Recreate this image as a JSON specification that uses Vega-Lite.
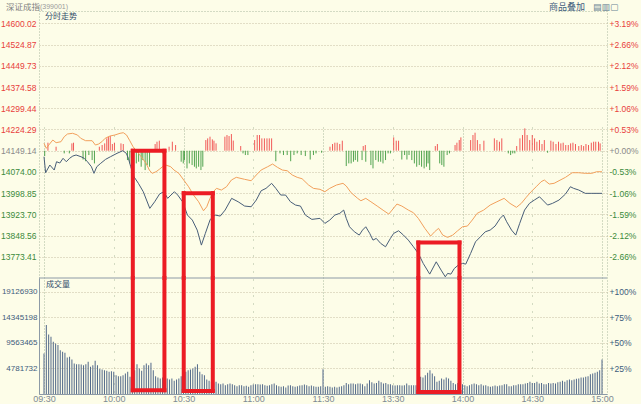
{
"$schema": "https://vega.github.io/schema/vega-lite/v6.json",
"width": 568,
"height": 383,
"autosize": {"type": "none"},
"padding": {"left": 39, "top": 11, "right": 34, "bottom": 10},
"background": "#fdfde8",
"config": {"view": {"stroke": "#aab8a0", "strokeDash": [1, 2]}, "font": "Liberation Sans", "axis": {"labelOverlap": false}},
"datasets": {
"one": [{}],
"price": [
{"m":0,"p":14127.9},{"m":0.7,"p":14071.2},{"m":2.5,"p":14098.4},{"m":4.4,"p":14080.7},{"m":5.4,"p":14110.1},{"m":6.8,"p":14105.5},{"m":8.2,"p":14122.2},{"m":9.6,"p":14110.1},{"m":11.0,"p":14122.2},{"m":12.4,"p":14130.3},{"m":13.8,"p":14133.9},{"m":15.9,"p":14127.9},{"m":17.3,"p":14122.2},{"m":18.7,"p":14110.1},{"m":20.4,"p":14092.4},{"m":21.5,"p":14069.0},{"m":22.7,"p":14092.4},{"m":24.4,"p":14104.5},{"m":26.5,"p":14118.6},{"m":28.6,"p":14127.9},{"m":31.4,"p":14139.9},{"m":33.9,"p":14149.1},{"m":35.4,"p":14139.9},{"m":36.3,"p":14122.2},{"m":37.3,"p":14092.4},{"m":38.7,"p":14056.9},{"m":40.6,"p":14033.5},{"m":42.7,"p":14003.8},{"m":45.5,"p":13944.9},{"m":47.6,"p":13968.3},{"m":49.7,"p":13995.6},{"m":51.5,"p":14003.8},{"m":53.2,"p":13980.4},{"m":54.6,"p":13992.1},{"m":56.1,"p":14003.8},{"m":57.5,"p":13992.1},{"m":59.6,"p":13968.3},{"m":61.7,"p":13921.2},{"m":63.8,"p":13903.4},{"m":65.9,"p":13868.0},{"m":67.7,"p":13814.8},{"m":69.4,"p":13856.3},{"m":71.5,"p":13905.9},{"m":73.6,"p":13921.2},{"m":75.8,"p":13917.6},{"m":77.9,"p":13938.9},{"m":80.7,"p":13980.4},{"m":83.5,"p":13968.3},{"m":86.3,"p":13953.1},{"m":89.1,"p":13950.6},{"m":91.3,"p":13974.3},{"m":93.4,"p":14007.3},{"m":95.5,"p":14015.8},{"m":97.9,"p":14033.5},{"m":99.7,"p":14015.8},{"m":101.8,"p":13992.1},{"m":103.9,"p":13992.1},{"m":106.0,"p":13968.3},{"m":108.2,"p":13956.6},{"m":110.3,"p":13953.1},{"m":112.4,"p":13921.2},{"m":115.2,"p":13905.9},{"m":118.7,"p":13909.5},{"m":120.8,"p":13891.7},{"m":122.9,"p":13903.4},{"m":125.1,"p":13921.2},{"m":127.2,"p":13927.2},{"m":128.9,"p":13938.9},{"m":130.0,"p":13909.5},{"m":131.4,"p":13879.7},{"m":133.5,"p":13862.0},{"m":135.6,"p":13850.3},{"m":137.0,"p":13868.0},{"m":138.4,"p":13879.7},{"m":140.1,"p":13856.3},{"m":141.5,"p":13832.5},{"m":142.9,"p":13838.6},{"m":144.8,"p":13820.9},{"m":146.9,"p":13808.8},{"m":149.0,"p":13838.6},{"m":150.4,"p":13856.3},{"m":152.5,"p":13865.5},{"m":154.6,"p":13850.3},{"m":156.7,"p":13832.5},{"m":158.9,"p":13808.8},{"m":161.0,"p":13785.4},{"m":163.1,"p":13750.0},{"m":165.9,"p":13712.0},{"m":168.7,"p":13755.6},{"m":170.8,"p":13726.2},{"m":172.6,"p":13702.5},{"m":173.6,"p":13714.5},{"m":175.0,"p":13712.0},{"m":176.5,"p":13732.2},{"m":178.2,"p":13743.9},{"m":180.0,"p":13750.0},{"m":181.4,"p":13747.5},{"m":183.5,"p":13785.4},{"m":185.6,"p":13826.5},{"m":187.7,"p":13844.2},{"m":189.8,"p":13862.0},{"m":191.9,"p":13868.0},{"m":194.0,"p":13882.2},{"m":196.2,"p":13909.5},{"m":197.6,"p":13921.2},{"m":199.0,"p":13897.4},{"m":201.1,"p":13868.0},{"m":202.9,"p":13850.3},{"m":204.6,"p":13891.7},{"m":206.7,"p":13938.9},{"m":208.8,"p":13962.6},{"m":210.9,"p":13974.3},{"m":213.1,"p":13986.0},{"m":214.5,"p":13974.3},{"m":216.6,"p":13956.6},{"m":218.7,"p":13962.6},{"m":221.5,"p":13974.3},{"m":224.3,"p":13995.6},{"m":226.4,"p":14021.5},{"m":227.8,"p":14015.8},{"m":230.0,"p":14009.8},{"m":232.8,"p":13998.1},{"m":235.6,"p":13998.1},{"m":240,"p":13998.1}
],
"avg": [
{"m":0,"a":14175.4},{"m":1.0,"a":14157.6},{"m":2.4,"a":14172.9},{"m":3.8,"a":14187.1},{"m":5.2,"a":14177.5},{"m":7.3,"a":14181.0},{"m":8.7,"a":14198.8},{"m":10.1,"a":14208.3},{"m":12.3,"a":14210.8},{"m":14.4,"a":14204.8},{"m":15.8,"a":14193.1},{"m":17.9,"a":14184.6},{"m":20.7,"a":14184.6},{"m":22.1,"a":14169.3},{"m":23.5,"a":14172.9},{"m":24.9,"a":14181.0},{"m":26.3,"a":14193.1},{"m":28.4,"a":14201.2},{"m":30.5,"a":14204.8},{"m":32.7,"a":14210.8},{"m":34.1,"a":14212.9},{"m":35.5,"a":14204.8},{"m":36.9,"a":14184.6},{"m":38.3,"a":14163.3},{"m":39.7,"a":14149.1},{"m":41.8,"a":14127.9},{"m":43.9,"a":14104.5},{"m":45.3,"a":14080.7},{"m":46.5,"a":14069.0},{"m":48.2,"a":14074.7},{"m":49.6,"a":14083.2},{"m":51.0,"a":14092.4},{"m":52.4,"a":14098.4},{"m":54.5,"a":14092.4},{"m":55.9,"a":14080.7},{"m":58.0,"a":14069.0},{"m":60.1,"a":14045.3},{"m":62.2,"a":14021.5},{"m":64.3,"a":13992.1},{"m":66.5,"a":13968.3},{"m":68.6,"a":13936.4},{"m":70.0,"a":13950.6},{"m":71.4,"a":13980.4},{"m":72.8,"a":14003.8},{"m":74.2,"a":14015.8},{"m":76.3,"a":14009.8},{"m":78.5,"a":14021.5},{"m":80.6,"a":14045.3},{"m":82.7,"a":14054.8},{"m":86.3,"a":14047.8},{"m":89.1,"a":14042.8},{"m":91.3,"a":14063.0},{"m":93.4,"a":14080.7},{"m":96.2,"a":14092.4},{"m":98.3,"a":14102.0},{"m":100.4,"a":14090.3},{"m":102.5,"a":14080.7},{"m":104.6,"a":14078.2},{"m":106.8,"a":14063.0},{"m":108.9,"a":14054.8},{"m":111.0,"a":14049.9},{"m":113.8,"a":14027.6},{"m":115.9,"a":14015.8},{"m":118.7,"a":14012.3},{"m":120.8,"a":14003.8},{"m":122.9,"a":14015.8},{"m":125.8,"a":14027.6},{"m":128.6,"a":14033.6},{"m":130.0,"a":14024.0},{"m":132.1,"a":14000.3},{"m":134.9,"a":13980.4},{"m":136.3,"a":13971.9},{"m":138.4,"a":13980.4},{"m":140.6,"a":13968.3},{"m":143.3,"a":13953.1},{"m":146.2,"a":13936.4},{"m":148.3,"a":13924.7},{"m":149.7,"a":13938.9},{"m":151.8,"a":13960.2},{"m":153.9,"a":13953.1},{"m":156.7,"a":13938.9},{"m":158.9,"a":13929.4},{"m":161.0,"a":13909.5},{"m":163.8,"a":13874.1},{"m":166.3,"a":13846.8},{"m":168.0,"a":13862.0},{"m":169.7,"a":13874.1},{"m":171.5,"a":13850.3},{"m":173.6,"a":13842.1},{"m":175.8,"a":13850.3},{"m":177.9,"a":13865.5},{"m":180.0,"a":13879.7},{"m":182.1,"a":13882.2},{"m":184.2,"a":13903.5},{"m":186.3,"a":13927.2},{"m":189.1,"a":13938.9},{"m":191.9,"a":13956.6},{"m":194.8,"a":13968.3},{"m":197.9,"a":13980.4},{"m":200.4,"a":13962.7},{"m":203.2,"a":13948.5},{"m":205.3,"a":13962.7},{"m":207.4,"a":13983.9},{"m":209.5,"a":14003.8},{"m":211.7,"a":14021.5},{"m":213.8,"a":14039.2},{"m":215.2,"a":14045.3},{"m":217.3,"a":14031.1},{"m":219.4,"a":14033.6},{"m":221.5,"a":14042.8},{"m":224.3,"a":14054.8},{"m":227.2,"a":14071.2},{"m":230.0,"a":14071.2},{"m":232.8,"a":14069.0},{"m":235.6,"a":14069.0},{"m":237.7,"a":14074.7},{"m":240,"a":14074.7}
],
"strength": [
{"m":1.7,"lvl":14177.5,"dir":"up"},{"m":5.2,"lvl":14163.3,"dir":"up"},{"m":12.0,"lvl":14175.1,"dir":"up"},{"m":12.7,"lvl":14177.5,"dir":"up"},{"m":23.8,"lvl":14163.3,"dir":"up"},{"m":25.0,"lvl":14169.2,"dir":"up"},{"m":26.1,"lvl":14175.1,"dir":"up"},{"m":27.0,"lvl":14192.8,"dir":"up"},{"m":27.7,"lvl":14198.8,"dir":"up"},{"m":28.5,"lvl":14201.1,"dir":"up"},{"m":29.4,"lvl":14172.8,"dir":"up"},{"m":30.3,"lvl":14177.5,"dir":"up"},{"m":33.1,"lvl":14175.1,"dir":"up"},{"m":34.1,"lvl":14172.8,"dir":"up"},{"m":47.8,"lvl":14172.8,"dir":"up"},{"m":48.6,"lvl":14181.0,"dir":"up"},{"m":49.6,"lvl":14184.6,"dir":"up"},{"m":53.8,"lvl":14163.3,"dir":"up"},{"m":55.2,"lvl":14181.0,"dir":"up"},{"m":56.6,"lvl":14169.2,"dir":"up"},{"m":69.6,"lvl":14186.9,"dir":"up"},{"m":70.4,"lvl":14192.8,"dir":"up"},{"m":71.4,"lvl":14198.8,"dir":"up"},{"m":72.4,"lvl":14189.3,"dir":"up"},{"m":73.1,"lvl":14184.6,"dir":"up"},{"m":74.0,"lvl":14175.1,"dir":"up"},{"m":77.8,"lvl":14198.8,"dir":"up"},{"m":78.7,"lvl":14204.7,"dir":"up"},{"m":79.6,"lvl":14201.1,"dir":"up"},{"m":80.6,"lvl":14208.2,"dir":"up"},{"m":81.4,"lvl":14185.0,"dir":"up"},{"m":84.6,"lvl":14165.7,"dir":"up"},{"m":90.6,"lvl":14186.9,"dir":"up"},{"m":91.7,"lvl":14204.7,"dir":"up"},{"m":92.7,"lvl":14204.7,"dir":"up"},{"m":93.7,"lvl":14192.8,"dir":"up"},{"m":94.8,"lvl":14192.8,"dir":"up"},{"m":95.9,"lvl":14192.8,"dir":"up"},{"m":96.9,"lvl":14192.8,"dir":"up"},{"m":97.9,"lvl":14192.8,"dir":"up"},{"m":123.0,"lvl":14163.3,"dir":"up"},{"m":124.1,"lvl":14172.8,"dir":"up"},{"m":125.1,"lvl":14177.5,"dir":"up"},{"m":126.1,"lvl":14177.5,"dir":"up"},{"m":127.2,"lvl":14172.8,"dir":"up"},{"m":128.3,"lvl":14184.6,"dir":"up"},{"m":137.3,"lvl":14165.7,"dir":"up"},{"m":138.2,"lvl":14169.2,"dir":"up"},{"m":150.4,"lvl":14196.4,"dir":"up"},{"m":151.5,"lvl":14184.6,"dir":"up"},{"m":152.5,"lvl":14184.6,"dir":"up"},{"m":168.3,"lvl":14165.7,"dir":"up"},{"m":169.2,"lvl":14172.8,"dir":"up"},{"m":176.8,"lvl":14169.2,"dir":"up"},{"m":177.6,"lvl":14177.5,"dir":"up"},{"m":178.6,"lvl":14186.9,"dir":"up"},{"m":179.3,"lvl":14196.4,"dir":"up"},{"m":183.5,"lvl":14186.9,"dir":"up"},{"m":184.5,"lvl":14204.7,"dir":"up"},{"m":185.4,"lvl":14212.9,"dir":"up"},{"m":186.4,"lvl":14186.9,"dir":"up"},{"m":187.5,"lvl":14172.8,"dir":"up"},{"m":189.2,"lvl":14184.6,"dir":"up"},{"m":193.7,"lvl":14192.8,"dir":"up"},{"m":194.8,"lvl":14186.9,"dir":"up"},{"m":195.9,"lvl":14181.0,"dir":"up"},{"m":196.9,"lvl":14192.8,"dir":"up"},{"m":203.3,"lvl":14165.7,"dir":"up"},{"m":204.7,"lvl":14192.8,"dir":"up"},{"m":205.8,"lvl":14204.7,"dir":"up"},{"m":206.8,"lvl":14228.3,"dir":"up"},{"m":207.8,"lvl":14204.7,"dir":"up"},{"m":208.9,"lvl":14186.9,"dir":"up"},{"m":210.0,"lvl":14204.7,"dir":"up"},{"m":211.0,"lvl":14192.8,"dir":"up"},{"m":212.0,"lvl":14181.0,"dir":"up"},{"m":213.1,"lvl":14186.9,"dir":"up"},{"m":214.2,"lvl":14172.8,"dir":"up"},{"m":215.2,"lvl":14186.9,"dir":"up"},{"m":218.0,"lvl":14184.6,"dir":"up"},{"m":219.0,"lvl":14181.0,"dir":"up"},{"m":220.2,"lvl":14172.8,"dir":"up"},{"m":221.3,"lvl":14181.0,"dir":"up"},{"m":222.3,"lvl":14175.1,"dir":"up"},{"m":223.3,"lvl":14177.5,"dir":"up"},{"m":224.4,"lvl":14169.2,"dir":"up"},{"m":225.5,"lvl":14169.2,"dir":"up"},{"m":226.5,"lvl":14175.1,"dir":"up"},{"m":227.5,"lvl":14177.5,"dir":"up"},{"m":228.6,"lvl":14172.8,"dir":"up"},{"m":230.0,"lvl":14165.7,"dir":"up"},{"m":231.1,"lvl":14169.2,"dir":"up"},{"m":232.1,"lvl":14165.7,"dir":"up"},{"m":233.1,"lvl":14172.8,"dir":"up"},{"m":234.2,"lvl":14169.2,"dir":"up"},{"m":235.4,"lvl":14177.5,"dir":"up"},{"m":236.4,"lvl":14181.0,"dir":"up"},{"m":237.3,"lvl":14181.0,"dir":"up"},{"m":238.5,"lvl":14181.0,"dir":"up"},{"m":239.2,"lvl":14175.1,"dir":"up"},
{"m":0.3,"lvl":14130.2,"dir":"down"},{"m":8.7,"lvl":14139.7,"dir":"down"},{"m":10.9,"lvl":14139.7,"dir":"down"},{"m":16.8,"lvl":14117.9,"dir":"down"},{"m":17.9,"lvl":14111.9,"dir":"down"},{"m":19.3,"lvl":14133.8,"dir":"down"},{"m":20.7,"lvl":14116.0,"dir":"down"},{"m":21.7,"lvl":14104.2,"dir":"down"},{"m":35.9,"lvl":14116.0,"dir":"down"},{"m":36.9,"lvl":14104.2,"dir":"down"},{"m":37.6,"lvl":14125.5,"dir":"down"},{"m":39.7,"lvl":14104.2,"dir":"down"},{"m":40.7,"lvl":14110.1,"dir":"down"},{"m":41.8,"lvl":14092.4,"dir":"down"},{"m":42.5,"lvl":14116.0,"dir":"down"},{"m":43.5,"lvl":14080.6,"dir":"down"},{"m":44.4,"lvl":14098.3,"dir":"down"},{"m":45.4,"lvl":14092.4,"dir":"down"},{"m":51.0,"lvl":14139.7,"dir":"down"},{"m":59.0,"lvl":14110.1,"dir":"down"},{"m":59.9,"lvl":14104.2,"dir":"down"},{"m":60.4,"lvl":14116.0,"dir":"down"},{"m":61.5,"lvl":14086.5,"dir":"down"},{"m":62.5,"lvl":14104.2,"dir":"down"},{"m":63.7,"lvl":14098.3,"dir":"down"},{"m":64.7,"lvl":14092.4,"dir":"down"},{"m":65.5,"lvl":14086.5,"dir":"down"},{"m":66.5,"lvl":14092.4,"dir":"down"},{"m":67.5,"lvl":14080.6,"dir":"down"},{"m":68.3,"lvl":14092.4,"dir":"down"},{"m":85.6,"lvl":14139.7,"dir":"down"},{"m":86.6,"lvl":14133.8,"dir":"down"},{"m":87.7,"lvl":14133.8,"dir":"down"},{"m":99.7,"lvl":14111.9,"dir":"down"},{"m":101.5,"lvl":14139.7,"dir":"down"},{"m":103.0,"lvl":14133.8,"dir":"down"},{"m":104.6,"lvl":14133.8,"dir":"down"},{"m":106.1,"lvl":14111.9,"dir":"down"},{"m":107.5,"lvl":14133.8,"dir":"down"},{"m":108.9,"lvl":14139.7,"dir":"down"},{"m":110.6,"lvl":14133.8,"dir":"down"},{"m":112.4,"lvl":14130.2,"dir":"down"},{"m":114.5,"lvl":14117.9,"dir":"down"},{"m":115.9,"lvl":14133.8,"dir":"down"},{"m":117.0,"lvl":14139.7,"dir":"down"},{"m":119.4,"lvl":14142.0,"dir":"down"},{"m":130.0,"lvl":14094.8,"dir":"down"},{"m":131.1,"lvl":14104.2,"dir":"down"},{"m":132.1,"lvl":14104.2,"dir":"down"},{"m":133.1,"lvl":14110.1,"dir":"down"},{"m":133.9,"lvl":14116.0,"dir":"down"},{"m":134.9,"lvl":14110.1,"dir":"down"},{"m":136.8,"lvl":14116.0,"dir":"down"},{"m":138.4,"lvl":14110.1,"dir":"down"},{"m":140.6,"lvl":14098.3,"dir":"down"},{"m":141.5,"lvl":14086.5,"dir":"down"},{"m":142.7,"lvl":14116.0,"dir":"down"},{"m":143.8,"lvl":14110.1,"dir":"down"},{"m":144.8,"lvl":14110.1,"dir":"down"},{"m":145.8,"lvl":14104.2,"dir":"down"},{"m":146.9,"lvl":14116.0,"dir":"down"},{"m":148.0,"lvl":14139.7,"dir":"down"},{"m":149.0,"lvl":14139.7,"dir":"down"},{"m":153.9,"lvl":14117.9,"dir":"down"},{"m":155.1,"lvl":14133.8,"dir":"down"},{"m":156.1,"lvl":14117.9,"dir":"down"},{"m":157.0,"lvl":14133.8,"dir":"down"},{"m":158.2,"lvl":14116.0,"dir":"down"},{"m":159.3,"lvl":14104.2,"dir":"down"},{"m":160.3,"lvl":14092.4,"dir":"down"},{"m":161.4,"lvl":14098.3,"dir":"down"},{"m":162.4,"lvl":14092.4,"dir":"down"},{"m":163.5,"lvl":14086.5,"dir":"down"},{"m":164.5,"lvl":14092.4,"dir":"down"},{"m":165.2,"lvl":14104.2,"dir":"down"},{"m":165.9,"lvl":14080.6,"dir":"down"},{"m":170.2,"lvl":14104.2,"dir":"down"},{"m":171.1,"lvl":14098.3,"dir":"down"},{"m":172.0,"lvl":14092.4,"dir":"down"},{"m":173.4,"lvl":14133.8,"dir":"down"},{"m":174.4,"lvl":14139.7,"dir":"down"},{"m":199.7,"lvl":14139.7,"dir":"down"},{"m":200.7,"lvl":14133.8,"dir":"down"},{"m":201.6,"lvl":14139.7,"dir":"down"},{"m":202.5,"lvl":14139.7,"dir":"down"},{"m":216.6,"lvl":14142.0,"dir":"down"}
],
"vol": [
{"m":0,"v":7580000},{"m":1,"v":12890000},{"m":2,"v":11140000},{"m":3,"v":10700000},{"m":4,"v":9760000},{"m":5,"v":9450000},{"m":6,"v":9140000},{"m":7,"v":8200000},{"m":8,"v":7890000},{"m":9,"v":7700000},{"m":10,"v":6830000},{"m":11,"v":6950000},{"m":12,"v":6460000},{"m":13,"v":5710000},{"m":14,"v":5580000},{"m":15,"v":5580000},{"m":16,"v":5520000},{"m":17,"v":5390000},{"m":18,"v":5580000},{"m":19,"v":6020000},{"m":20,"v":5080000},{"m":21,"v":5390000},{"m":22,"v":6210000},{"m":23,"v":5390000},{"m":24,"v":4710000},{"m":25,"v":4580000},{"m":26,"v":4460000},{"m":27,"v":4330000},{"m":28,"v":4150000},{"m":29,"v":4270000},{"m":30,"v":4150000},{"m":31,"v":3520000},{"m":32,"v":3330000},{"m":33,"v":3330000},{"m":34,"v":3520000},{"m":35,"v":3830000},{"m":36,"v":4150000},{"m":37,"v":3210000},{"m":38,"v":2580000},{"m":39,"v":4460000},{"m":40,"v":5580000},{"m":41,"v":4770000},{"m":42,"v":4330000},{"m":43,"v":5390000},{"m":44,"v":5710000},{"m":45,"v":5390000},{"m":46,"v":5830000},{"m":47,"v":4460000},{"m":48,"v":3330000},{"m":49,"v":3080000},{"m":50,"v":2900000},{"m":51,"v":3080000},{"m":52,"v":2900000},{"m":53,"v":2900000},{"m":54,"v":2710000},{"m":55,"v":2900000},{"m":56,"v":2460000},{"m":57,"v":2710000},{"m":58,"v":2900000},{"m":59,"v":3330000},{"m":60,"v":4150000},{"m":61,"v":4150000},{"m":62,"v":4460000},{"m":63,"v":4580000},{"m":64,"v":4770000},{"m":65,"v":5080000},{"m":66,"v":5580000},{"m":67,"v":4150000},{"m":68,"v":3710000},{"m":69,"v":3520000},{"m":70,"v":2710000},{"m":71,"v":2460000},{"m":72,"v":2270000},{"m":73,"v":2080000},{"m":74,"v":2270000},
{"m":75,"v":1960000},{"m":76,"v":1840000},{"m":77,"v":1960000},{"m":78,"v":1650000},{"m":79,"v":1840000},{"m":80,"v":1960000},{"m":81,"v":1840000},{"m":82,"v":1650000},{"m":83,"v":1460000},{"m":84,"v":1650000},{"m":85,"v":1650000},{"m":86,"v":1460000},{"m":87,"v":1520000},{"m":88,"v":1340000},{"m":89,"v":1650000},{"m":90,"v":1770000},{"m":91,"v":1840000},{"m":92,"v":1840000},{"m":93,"v":1770000},{"m":94,"v":1840000},{"m":95,"v":1650000},{"m":96,"v":1520000},{"m":97,"v":1650000},{"m":98,"v":1840000},{"m":99,"v":1960000},{"m":100,"v":1650000},{"m":101,"v":1460000},{"m":102,"v":1340000},{"m":103,"v":1460000},{"m":104,"v":1210000},{"m":105,"v":1590000},{"m":106,"v":1650000},{"m":107,"v":1460000},{"m":108,"v":1340000},{"m":109,"v":1460000},{"m":110,"v":1590000},{"m":111,"v":1650000},{"m":112,"v":1770000},{"m":113,"v":1650000},{"m":114,"v":1460000},{"m":115,"v":1590000},{"m":116,"v":1460000},{"m":117,"v":1340000},
{"m":118,"v":1340000},{"m":119,"v":1460000},{"m":120,"v":4640000},{"m":121,"v":1340000},{"m":122,"v":1460000},{"m":123,"v":1340000},{"m":124,"v":1210000},{"m":125,"v":1340000},{"m":126,"v":1210000},{"m":127,"v":1340000},{"m":128,"v":1460000},{"m":129,"v":1650000},{"m":130,"v":2080000},{"m":131,"v":1840000},{"m":132,"v":1960000},{"m":133,"v":1960000},{"m":134,"v":1840000},{"m":135,"v":1960000},{"m":136,"v":1960000},{"m":137,"v":1840000},{"m":138,"v":1460000},{"m":139,"v":1960000},{"m":140,"v":2580000},{"m":141,"v":2210000},{"m":142,"v":1960000},{"m":143,"v":2080000},{"m":144,"v":2460000},{"m":145,"v":2210000},{"m":146,"v":1960000},{"m":147,"v":2080000},{"m":148,"v":1840000},{"m":149,"v":1840000},{"m":150,"v":1650000},{"m":151,"v":1590000},{"m":152,"v":1650000},{"m":153,"v":1650000},{"m":154,"v":1590000},{"m":155,"v":1650000},{"m":156,"v":1960000},{"m":157,"v":1650000},{"m":158,"v":1650000},{"m":159,"v":1650000},{"m":160,"v":1650000},
{"m":161,"v":3080000},{"m":162,"v":3210000},{"m":163,"v":3080000},{"m":164,"v":3520000},{"m":165,"v":3960000},{"m":166,"v":4460000},{"m":167,"v":3830000},{"m":168,"v":3330000},{"m":169,"v":2270000},{"m":170,"v":2460000},{"m":171,"v":2900000},{"m":172,"v":2710000},{"m":173,"v":3080000},{"m":174,"v":2900000},{"m":175,"v":2460000},{"m":176,"v":2080000},{"m":177,"v":1840000},{"m":178,"v":2080000},
{"m":179,"v":1960000},{"m":180,"v":1840000},{"m":181,"v":1650000},{"m":182,"v":1460000},{"m":183,"v":1650000},{"m":184,"v":1840000},{"m":185,"v":1960000},{"m":186,"v":1840000},{"m":187,"v":1650000},{"m":188,"v":1840000},{"m":189,"v":1590000},{"m":190,"v":1650000},{"m":191,"v":1460000},{"m":192,"v":1340000},{"m":193,"v":1460000},{"m":194,"v":1590000},{"m":195,"v":1460000},{"m":196,"v":1590000},{"m":197,"v":1650000},{"m":198,"v":1840000},{"m":199,"v":1840000},{"m":200,"v":1460000},{"m":201,"v":1460000},{"m":202,"v":1650000},{"m":203,"v":1650000},{"m":204,"v":1840000},{"m":205,"v":1840000},{"m":206,"v":1840000},{"m":207,"v":1960000},{"m":208,"v":2080000},{"m":209,"v":2270000},{"m":210,"v":2080000},{"m":211,"v":2080000},{"m":212,"v":2270000},{"m":213,"v":1960000},{"m":214,"v":2080000},{"m":215,"v":1840000},{"m":216,"v":1840000},{"m":217,"v":2080000},{"m":218,"v":1960000},{"m":219,"v":2080000},{"m":220,"v":1960000},{"m":221,"v":2210000},{"m":222,"v":2270000},{"m":223,"v":2460000},{"m":224,"v":2270000},{"m":225,"v":2580000},{"m":226,"v":2710000},{"m":227,"v":2580000},{"m":228,"v":2710000},{"m":229,"v":2830000},{"m":230,"v":2900000},{"m":231,"v":3080000},{"m":232,"v":3080000},{"m":233,"v":3210000},{"m":234,"v":3330000},{"m":235,"v":3710000},{"m":236,"v":3830000},{"m":237,"v":3960000},{"m":238,"v":4150000},{"m":239,"v":4460000},{"m":240,"v":6460000}
],
"boxes": [
{"x1":38.2,"x2":51.8,"top":14149.14,"bot":712000},
{"x1":60.1,"x2":72.6,"top":13998.85,"bot":580000},
{"x1":161.0,"x2":178.7,"top":13824.0,"bot":393000}
]
},
"resolve": {"scale": {"y": "independent"}, "axis": {"y": "independent"}},
"layer": [
{
"layer": [
{"data": {"name": "strength"},
 "transform": [{"calculate": "14149.14", "as": "base"}],
 "mark": {"type": "rule", "strokeWidth": 1, "opacity": 0.9},
 "encoding": {
  "x": {"field": "m", "type": "quantitative",
   "scale": {"domain": [0, 240], "nice": false, "zero": false},
   "axis": {"values": [0, 30, 60, 90, 120, 150, 180, 210, 240],
    "labelExpr": "['09:30','10:00','10:30','11:00','11:30','13:30','14:00','14:30','15:00'][round(datum.value/30)]",
    "title": null, "grid": true, "gridColor": "#a9b89c",
    "gridDash": {"condition": {"test": "datum.value % 60 == 0", "value": [1, 2]}, "value": [1, 7]},
    "ticks": false, "labelPadding": 4, "labelBaseline": "middle", "labelFontSize": 9,
    "labelColor": "#7d8a94", "domainColor": "#8d9aa6",
    "labelOverlap": false, "labelBound": false, "labelFlush": false}},
  "y": {"field": "lvl", "type": "quantitative",
   "scale": {"domain": [13698.26, 14644], "range": [267, 0], "nice": false, "zero": false},
   "axis": null},
  "y2": {"field": "base"},
  "color": {"field": "dir", "type": "nominal", "scale": {"domain": ["up", "down"], "range": ["#f04848", "#3e9a3e"]}, "legend": null}
 }},
{"data": {"name": "avg"},
 "mark": {"type": "line", "color": "#f2a05c", "strokeWidth": 1},
 "encoding": {"x": {"field": "m", "type": "quantitative"}, "y": {"field": "a", "type": "quantitative", "axis": null}}},
{"data": {"name": "price"},
 "mark": {"type": "line", "color": "#485e78", "strokeWidth": 1},
 "encoding": {"x": {"field": "m", "type": "quantitative"}, "y": {"field": "p", "type": "quantitative", "axis": null}}},
{"data": {"name": "boxes"},
 "mark": {"type": "rule", "color": "#ec1c24", "strokeWidth": 4, "strokeCap": "square"},
 "encoding": {"x": {"field": "x1", "type": "quantitative"}, "x2": {"field": "x2"}, "y": {"field": "top", "type": "quantitative", "axis": null}}},
{"data": {"name": "boxes"},
 "transform": [{"calculate": "13698.26", "as": "pb"}],
 "mark": {"type": "rule", "color": "#ec1c24", "strokeWidth": 4, "strokeCap": "square"},
 "encoding": {"x": {"field": "x1", "type": "quantitative"}, "y": {"field": "top", "type": "quantitative", "axis": null}, "y2": {"field": "pb"}}},
{"data": {"name": "boxes"},
 "transform": [{"calculate": "13698.26", "as": "pb"}],
 "mark": {"type": "rule", "color": "#ec1c24", "strokeWidth": 4, "strokeCap": "square"},
 "encoding": {"x": {"field": "x2", "type": "quantitative"}, "y": {"field": "top", "type": "quantitative", "axis": null}, "y2": {"field": "pb"}}},
{"data": {"name": "one"},
 "mark": {"type": "text", "text": "分时走势", "font": "Noto Sans CJK SC", "fontSize": 8, "color": "#2f4b68", "align": "left", "baseline": "top", "dx": 1, "dy": 2},
 "encoding": {"x": {"datum": 0}, "y": {"datum": 14644, "axis": null}}},
{"data": {"name": "one"},
 "mark": {"type": "text", "text": "深证成指", "font": "Noto Sans CJK SC", "fontSize": 8.5, "color": "#808080", "align": "left", "baseline": "middle", "dx": -38, "dy": -4.5},
 "encoding": {"x": {"datum": 0}, "y": {"datum": 14644, "axis": null}}},
{"data": {"name": "one"},
 "mark": {"type": "text", "text": "(399001)", "fontSize": 7, "color": "#9a9a9a", "align": "left", "baseline": "middle", "dx": -4, "dy": -4.5},
 "encoding": {"x": {"datum": 0}, "y": {"datum": 14644, "axis": null}}},
{"data": {"name": "one"},
 "mark": {"type": "text", "text": "商品叠加", "font": "Noto Sans CJK SC", "fontSize": 9, "color": "#3d5c7c", "align": "left", "baseline": "middle", "dx": -53, "dy": -4.5},
 "encoding": {"x": {"datum": 240}, "y": {"datum": 14644, "axis": null}}},
{"data": {"name": "one"},
 "mark": {"type": "text", "text": "▤▥▢", "font": "DejaVu Sans", "fontSize": 9, "color": "#6a8494", "align": "left", "baseline": "middle", "dx": -9, "dy": -4.5},
 "encoding": {"x": {"datum": 240}, "y": {"datum": 14644, "axis": null}}}
]
},
{
"data": {"name": "price"},
"mark": {"type": "point", "opacity": 0, "size": 1},
"encoding": {
 "x": {"field": "m", "type": "quantitative"},
 "y": {"field": "p", "type": "quantitative",
  "scale": {"domain": [13698.26, 14644], "range": [267, 0], "nice": false, "zero": false},
  "axis": {"orient": "left", "values": [13773.41, 13848.56, 13923.70, 13998.85, 14074.00, 14149.14, 14224.29, 14299.44, 14374.58, 14449.73, 14524.87, 14600.02],
   "format": ".2f", "title": null, "grid": true, "gridColor": "#c6bfa4", "gridDash": [1, 2],
   "ticks": false, "domain": false, "labelPadding": 3, "labelFontSize": 8.5, "labelOverlap": false, "labelBound": false,
   "labelColor": {"condition": [{"test": "datum.value > 14150", "value": "#e8403c"}, {"test": "datum.value < 14148", "value": "#3b8a3b"}], "value": "#8a8a8a"}}}
}
},
{
"data": {"name": "price"},
"mark": {"type": "point", "opacity": 0, "size": 1},
"encoding": {
 "x": {"field": "m", "type": "quantitative"},
 "y": {"field": "p", "type": "quantitative",
  "scale": {"domain": [13698.26, 14644], "range": [267, 0], "nice": false, "zero": false},
  "axis": {"orient": "right", "values": [13773.41, 13848.56, 13923.70, 13998.85, 14074.00, 14149.14, 14224.29, 14299.44, 14374.58, 14449.73, 14524.87, 14600.02],
   "labelExpr": "(datum.value >= 14149.14 ? '+' : '-') + format(abs(datum.value - 14149.14) / 14149.14 * 100, '.2f') + '%'",
   "title": null, "grid": false, "ticks": false, "domain": false, "labelPadding": 2, "labelFontSize": 8.5, "labelOverlap": false, "labelBound": false,
   "labelColor": {"condition": [{"test": "datum.value > 14150", "value": "#e8403c"}, {"test": "datum.value < 14148", "value": "#3b8a3b"}], "value": "#8a8a8a"}}}
}
},
{
"layer": [
{"data": {"name": "vol"},
 "mark": {"type": "bar", "color": "#52698a", "size": 1},
 "encoding": {
  "x": {"field": "m", "type": "quantitative"},
  "y": {"field": "v", "type": "quantitative",
   "scale": {"domain": [0, 21689000], "range": [383, 267], "nice": false, "zero": true},
   "axis": null}
 }},
{"data": {"name": "one"},
 "mark": {"type": "rule", "color": "#8d9aa6", "strokeWidth": 1},
 "encoding": {"y": {"datum": 21689000, "axis": null}}},
{"data": {"name": "boxes"},
 "transform": [{"calculate": "21689000", "as": "vt"}],
 "mark": {"type": "rule", "color": "#ec1c24", "strokeWidth": 4, "strokeCap": "square"},
 "encoding": {"x": {"field": "x1", "type": "quantitative"}, "y": {"field": "vt", "type": "quantitative", "axis": null}, "y2": {"field": "bot"}}},
{"data": {"name": "boxes"},
 "transform": [{"calculate": "21689000", "as": "vt"}],
 "mark": {"type": "rule", "color": "#ec1c24", "strokeWidth": 4, "strokeCap": "square"},
 "encoding": {"x": {"field": "x2", "type": "quantitative"}, "y": {"field": "vt", "type": "quantitative", "axis": null}, "y2": {"field": "bot"}}},
{"data": {"name": "boxes"},
 "mark": {"type": "rule", "color": "#ec1c24", "strokeWidth": 4, "strokeCap": "square"},
 "encoding": {"x": {"field": "x1", "type": "quantitative"}, "x2": {"field": "x2"}, "y": {"field": "bot", "type": "quantitative", "axis": null}}},
{"data": {"name": "one"},
 "mark": {"type": "text", "text": "成交量", "font": "Noto Sans CJK SC", "fontSize": 8, "color": "#2f4b68", "align": "left", "baseline": "top", "dx": 2, "dy": 3},
 "encoding": {"x": {"datum": 0}, "y": {"datum": 21689000, "axis": null}}}
]
},
{
"data": {"name": "vol"},
"mark": {"type": "point", "opacity": 0, "size": 1},
"encoding": {
 "x": {"field": "m", "type": "quantitative"},
 "y": {"field": "v", "type": "quantitative",
  "scale": {"domain": [0, 21689000], "range": [383, 267], "nice": false, "zero": true},
  "axis": {"orient": "left", "values": [4781732, 9563465, 14345198, 19126930], "format": "d", "title": null,
   "grid": true, "gridColor": "#c6bfa4", "gridDash": [1, 2], "ticks": false, "labelPadding": 2, "labelOverlap": false,
   "labelFontSize": 8, "labelColor": "#3d5c7c", "domainColor": "#8d9aa6"}}
}
},
{
"data": {"name": "vol"},
"mark": {"type": "point", "opacity": 0, "size": 1},
"encoding": {
 "x": {"field": "m", "type": "quantitative"},
 "y": {"field": "v", "type": "quantitative",
  "scale": {"domain": [0, 21689000], "range": [383, 267], "nice": false, "zero": true},
  "axis": {"orient": "right", "values": [4781732, 9563465, 14345198, 19126930],
   "labelExpr": "'+' + format(datum.value / 19126930 * 100, '.0f') + '%'",
   "title": null, "grid": false, "ticks": false, "domain": false, "labelPadding": 2, "labelOverlap": false,
   "labelFontSize": 8.5, "labelColor": "#3d5c7c"}}
}
}
]
}
